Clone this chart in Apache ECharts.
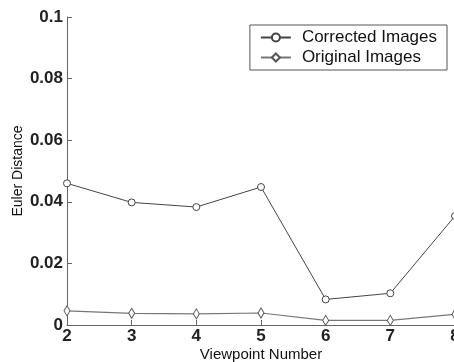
<!DOCTYPE html>
<html>
<head>
<meta charset="utf-8">
<script src="https://cdn.jsdelivr.net/npm/echarts@6/dist/echarts.min.js"></script>
<style>
  html, body { margin: 0; padding: 0; background: #fff; }
  #chart { width: 454px; height: 362px; }
</style>
</head>
<body>
<div id="chart"></div>
<script>
// viewpoints on the x axis
const viewpoints = [2, 3, 4, 5, 6, 7, 8]
// euler distance per viewpoint
const corrected = [0.046, 0.0398, 0.0383, 0.0448, 0.0083, 0.0103, 0.0354]
const original = [0.0046, 0.0038, 0.0036, 0.0039, 0.0015, 0.0015, 0.0035]
const yTicks = ['0', '0.02', '0.04', '0.06', '0.08', '0.1']

const chart = echarts.init(document.getElementById('chart'))

const pair = (vals) => viewpoints.map((v, i) => [v, vals[i]])
const font = 'Liberation Sans, Arial, sans-serif'

chart.setOption({
  animation: false,
  backgroundColor: '#fff',
  grid: { left: 67, top: 17, width: 388, height: 308, outerBoundsMode: 'none', containLabel: false },
  legend: {
    right: 7,
    top: 25,
    orient: 'vertical',
    itemWidth: 30,
    itemHeight: 10,
    itemGap: 3,
    padding: [4, 10, 4, 10],
    borderColor: '#555',
    borderWidth: 1,
    textStyle: { fontFamily: font, fontSize: 17, color: '#111', padding: [0, 0, 0, 6] },
    data: ['Corrected Images', 'Original Images']
  },
  xAxis: {
    type: 'value',
    min: 2,
    max: 8,
    interval: 1,
    name: 'Viewpoint Number',
    nameLocation: 'middle',
    nameGap: 22,
    nameMoveOverlap: false,
    nameTextStyle: { fontFamily: font, fontSize: 15, color: '#111' },
    axisLine: { lineStyle: { color: '#666' } },
    axisTick: { inside: true, length: 5, lineStyle: { color: '#666' } },
    axisLabel: { fontFamily: font, fontSize: 17, fontWeight: 'bold', color: '#222', margin: 3 },
    splitLine: { show: false }
  },
  yAxis: {
    type: 'value',
    min: 0,
    max: 0.1,
    interval: 0.02,
    name: 'Euler Distance',
    nameLocation: 'middle',
    nameGap: 42,
    nameMoveOverlap: false,
    nameTextStyle: { fontFamily: font, fontSize: 14, color: '#111' },
    axisLine: { show: true, lineStyle: { color: '#666' } },
    axisTick: { show: true, inside: true, length: 5, lineStyle: { color: '#666' } },
    axisLabel: {
      fontFamily: font, fontSize: 17, fontWeight: 'bold', color: '#222', margin: 4,
      formatter: (v) => yTicks[Math.round(v / 0.02)]
    },
    splitLine: { show: false }
  },
  series: [
    {
      name: 'Corrected Images',
      type: 'line',
      data: pair(corrected),
      symbol: 'circle',
      symbolSize: 7,
      lineStyle: { color: '#444', width: 1 },
      itemStyle: { color: '#fff', borderColor: '#444', borderWidth: 1 }
    },
    {
      name: 'Original Images',
      type: 'line',
      data: pair(original),
      symbol: 'diamond',
      symbolSize: [6, 10],
      lineStyle: { color: '#777', width: 1.2 },
      itemStyle: { color: '#fff', borderColor: '#555', borderWidth: 1 }
    }
  ]
})
</script>
</body>
</html>
